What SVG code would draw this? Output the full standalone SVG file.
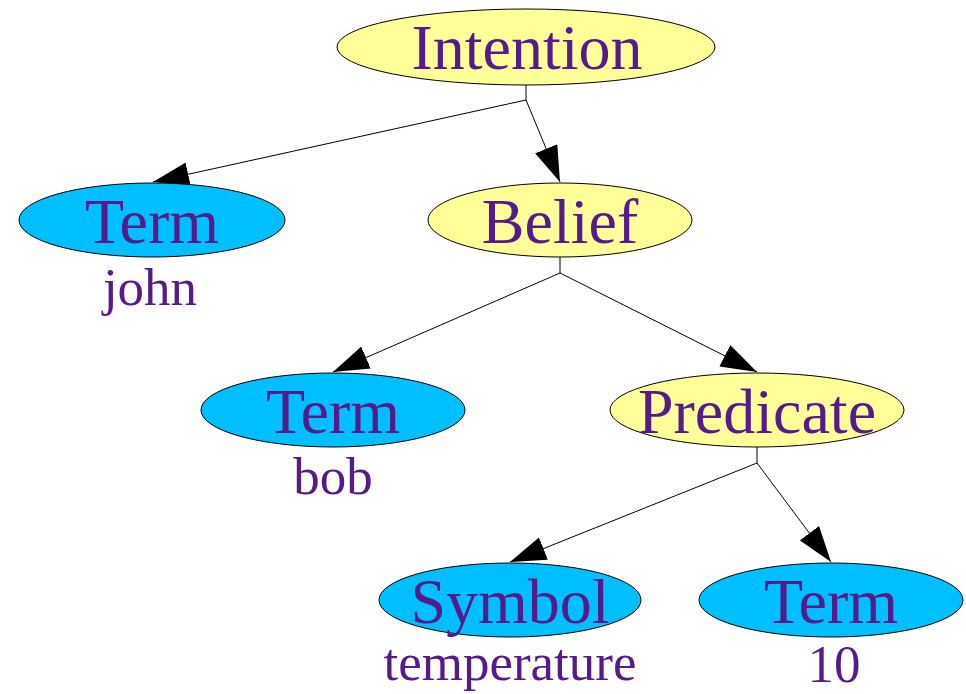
<svg xmlns="http://www.w3.org/2000/svg" width="966" height="694" viewBox="0 0 966 694">
<style>
.y{fill:#ffff99;stroke:#000;stroke-width:1}
.b{fill:#00bfff;stroke:#000;stroke-width:1}
.t{font-family:"Liberation Serif",serif;font-size:64px;fill:#551a8b;text-anchor:middle}
.s{font-family:"Liberation Serif",serif;font-size:53px;fill:#551a8b;text-anchor:middle}
.e{fill:none;stroke:#000;stroke-width:1}
</style>
<defs>
<marker id="ah" markerWidth="36" markerHeight="24" refX="36" refY="12" orient="auto" markerUnits="userSpaceOnUse">
<path d="M0,0 L36,12 L0,24 Z" fill="#000"/>
</marker>
</defs>
<rect width="966" height="694" fill="#fff"/>
<g id="connectors">
<path class="e" d="M526,85 V100"/>
<path class="e" d="M526,100 L153,182" marker-end="url(#ah)"/>
<path class="e" d="M526,100 L560,182" marker-end="url(#ah)"/>
<path class="e" d="M560,257 V273"/>
<path class="e" d="M560,273 L333,372" marker-end="url(#ah)"/>
<path class="e" d="M560,273 L757,372" marker-end="url(#ah)"/>
<path class="e" d="M757,447 V463"/>
<path class="e" d="M757,463 L510,562" marker-end="url(#ah)"/>
<path class="e" d="M757,463 L831,562" marker-end="url(#ah)"/>
</g>
<g id="intention">
<ellipse class="y" cx="526" cy="47" rx="189" ry="38"/>
<text class="t" x="527" y="69">Intention</text>
</g>
<g id="term-john">
<ellipse class="b" cx="152" cy="220" rx="133" ry="37"/>
<text class="t" x="152" y="243">Term</text>
<text class="s" x="150" y="305">john</text>
</g>
<g id="belief">
<ellipse class="y" cx="560" cy="220" rx="132" ry="37"/>
<text class="t" x="560" y="243">Belief</text>
</g>
<g id="term-bob">
<ellipse class="b" cx="333" cy="410" rx="132" ry="37"/>
<text class="t" x="333" y="433">Term</text>
<text class="s" x="333" y="494">bob</text>
</g>
<g id="predicate">
<ellipse class="y" cx="757" cy="410" rx="147" ry="37"/>
<text class="t" x="757" y="433">Predicate</text>
</g>
<g id="symbol">
<ellipse class="b" cx="510" cy="600" rx="131" ry="37"/>
<text class="t" x="510" y="623">Symbol</text>
<text class="s" x="510" y="680">temperature</text>
</g>
<g id="term-10">
<ellipse class="b" cx="831" cy="600" rx="132" ry="37"/>
<text class="t" x="831" y="623">Term</text>
<text class="s" x="834" y="682">10</text>
</g>
</svg>
